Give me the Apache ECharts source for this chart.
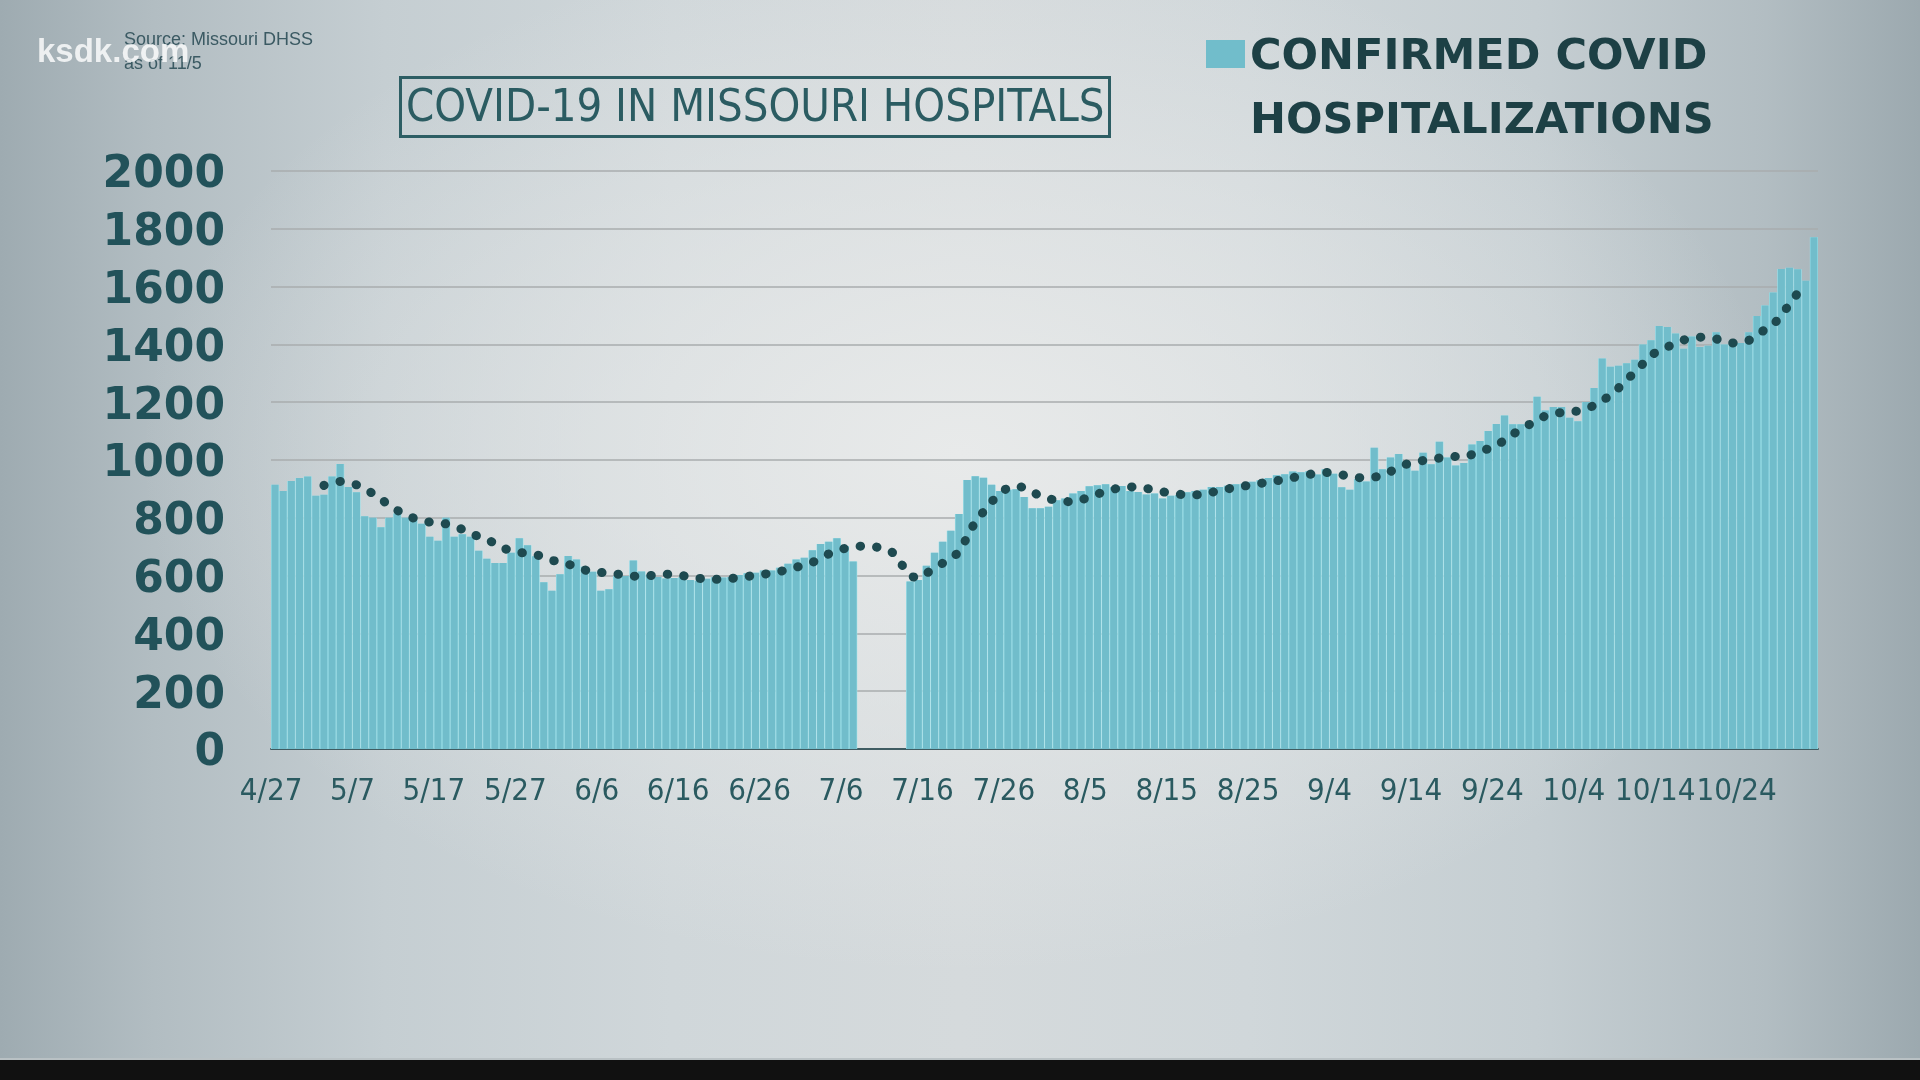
<!DOCTYPE html>
<html>
<head>
<meta charset="utf-8">
<script src="https://cdn.jsdelivr.net/npm/echarts@6/dist/echarts.min.js"></script>
<style>
html,body{margin:0;padding:0;width:1920px;height:1080px;overflow:hidden;}
body{
  background:
    radial-gradient(ellipse 820px 520px at 50% 42%, rgba(232,234,234,1) 0%, rgba(232,234,234,0) 100%),
    linear-gradient(to right, #9eabb1 0%, #b2bdc2 8%, #c5ced2 20%, #d0d7da 35%, #d5dadc 50%, #d0d7da 65%, #c5ced2 80%, #b2bdc2 92%, #9ca9af 100%);
}
#chart{width:1920px;height:1080px;}
</style>
</head>
<body>
<div id="chart"></div>
<script>
// ---- data ----
const startMonth = 4, startDay = 27, dayCount = 190;
const monthLengths = {4: 30, 5: 31, 6: 30, 7: 31, 8: 31, 9: 30, 10: 31, 11: 30};
const dates = [];
(function () {
  let m = startMonth, d = startDay;
  for (let i = 0; i < dayCount; i++) {
    dates.push(m + '/' + d);
    d++;
    if (d > monthLengths[m]) { d = 1; m++; }
  }
})();

const hospitalized = [
  914, 893, 927, 938, 943, 876, 880, 943, 986, 907,
  888, 805, 800, 767, 800, 815, 800, 792, 779, 734,
  721, 800, 734, 743, 734, 686, 658, 644, 644, 679,
  729, 705, 667,
  577, 548, 605, 668, 656, 631, 613, 548, 553, 599,
  599, 652, 614, 602, 595, 590, 592, 594, 585, 582,
  589, 594, 593, 595, 602, 608, 610, 618, 618, 627,
  641, 656,
  662, 688, 709, 717, 729, 702, 649,
  null, null, null, null, null, null,
  580, 585, 634, 679, 717, 755, 813, 931, 944, 939,
  914, 893, 897, 899, 872, 833, 833, 838, 861, 867,
  884, 893, 909, 913, 916, 907, 910, 893, 889, 881,
  884, 867, 876, 879, 888, 893, 897, 907, 907, 911,
  916, 918, 925, 930, 938, 947, 951, 960, 958, 961,
  950, 968,
  952, 906, 897, 934, 926, 1042, 968, 1009, 1021, 992,
  963, 1025, 985, 1063, 1009, 981, 990, 1054, 1066, 1100,
  1125, 1154, 1124, 1124, 1132, 1219, 1171, 1183, 1183, 1146,
  1134, 1201, 1249,
  1351, 1323, 1326, 1335, 1347, 1400, 1414, 1464, 1460, 1438,
  1385, 1427, 1391, 1395, 1442, 1400, 1400, 1405, 1442, 1498,
  1535, 1580, 1661, 1665, 1660, 1620, 1771
];

const sevenDayAvg = [
  null, null, null, null, null, null,
  912, 920, 926, 922, 914, 900, 884, 866, 842, 826,
  810, 799, 791, 785, 781, 779, 770, 760, 747, 735,
  724, 712, 696, 686, 680, 677, 672, 665, 654, 645,
  639, 632, 620, 613, 611, 608, 605, 602, 598, 598,
  600, 603, 605, 604, 600, 596, 591, 588, 587, 588,
  590, 593, 597, 601, 605, 608, 614, 622, 629, 637,
  646, 660, 675, 686, 694, 699, 702, 701, 698, 692,
  676, 637, 601, 592, 608, 625, 643, 662, 682, 734,
  785, 821, 855, 884, 903, 909, 904, 890, 875, 866,
  861, 857, 855, 862, 872, 882, 892, 899, 905, 907,
  907, 902, 895, 890, 886, 882, 878, 879, 882, 888,
  894, 900, 905, 910, 914, 919, 923, 928, 933, 939,
  945, 950, 955, 957, 954, 949, 942, 939, 939, 941,
  946, 960, 975, 986, 993, 998, 1001, 1007, 1013, 1012,
  1010, 1019, 1030, 1039, 1050, 1069, 1089, 1105, 1122, 1140,
  1152, 1161, 1164, 1165, 1170, 1177, 1189, 1205, 1225, 1249,
  1277, 1304, 1333, 1362, 1378, 1391, 1404, 1415, 1421, 1425,
  1424, 1419, 1410, 1405, 1408, 1414, 1430, 1452, 1470, 1500,
  1540, 1577, 1613,
  null
];

const seriesName = 'CONFIRMED COVID HOSPITALIZATIONS';
const legendLines = ['CONFIRMED COVID', 'HOSPITALIZATIONS'];
const titleText = 'COVID-19 IN MISSOURI HOSPITALS';
const sourceText = 'Source: Missouri DHSS\nas of 11/5';

// ---- chart ----
const chart = echarts.init(document.getElementById('chart'), null, {renderer: 'canvas'});
const legendFont = {fontFamily: 'DejaVu Sans', fontWeight: 'bold', fontSize: 43, color: '#1d4045'};
const option = {
  backgroundColor: 'transparent',
  animation: false,
  title: {
    text: titleText,
    left: 400, top: 77,
    padding: [7, 5, 3, 6],
    borderColor: '#2d5e64', borderWidth: 3,
    textStyle: {fontFamily: "'DejaVu Sans Condensed', 'Liberation Sans', sans-serif", fontWeight: 'normal', fontSize: 45, color: '#2b5c62', lineHeight: 50}
  },
  legend: {
    data: [seriesName],
    left: 1206, top: -46, padding: 0,
    icon: 'rect', itemWidth: 39, itemHeight: 28,
    selectedMode: false,
    formatter: function () { return '\n{t|' + legendLines.join('}\n{t|') + '}'; },
    textStyle: Object.assign({lineHeight: 72, rich: {t: Object.assign({lineHeight: 64}, legendFont)}}, legendFont)
  },
  grid: {left: 271, right: 102, top: 171, bottom: 331, containLabel: false},
  xAxis: [
    {
      type: 'category', data: dates, boundaryGap: true,
      axisLine: {lineStyle: {color: '#3f5c62', width: 2}},
      axisTick: {interval: 9, length: 10, lineStyle: {color: '#3f5c62', width: 2}},
      axisLabel: {interval: 9, margin: 27, color: '#2a5a60', fontFamily: "'DejaVu Sans Condensed', 'Liberation Sans', sans-serif", fontSize: 31, padding: [0, 8, 0, 0]},
      splitLine: {show: false}
    },
    {type: 'category', data: dates, boundaryGap: true, show: false}
  ],
  yAxis: {
    type: 'value', min: 0, max: 2000, interval: 200,
    axisLine: {show: false}, axisTick: {show: false},
    splitLine: {lineStyle: {color: '#a9adae', width: 1.5}},
    axisLabel: {margin: 46, color: '#22525a', fontFamily: 'DejaVu Sans', fontWeight: 'bold', fontSize: 44,
                verticalAlign: 'top', lineHeight: 10,
                formatter: function (v) { return String(v); }}
  },
  series: [
    {
      name: 'bar gaps', type: 'bar', xAxisIndex: 1, data: hospitalized,
      barCategoryGap: '0%', itemStyle: {color: '#a0e3ec'}, silent: true, z: 1
    },
    {
      name: seriesName, type: 'bar', xAxisIndex: 0, data: hospitalized,
      barCategoryGap: '13%', itemStyle: {color: '#71bdcb'}, z: 2
    },
    {
      name: '7-day average', type: 'line', xAxisIndex: 0, data: sevenDayAvg,
      smooth: 0.3, showSymbol: false,
      lineStyle: {color: '#1e4a50', width: 9, type: [0.5, 16], cap: 'round'}, z: 3
    }
  ],
  graphic: [
    {type: 'text', left: 124, top: 28, z: 10,
     style: {text: sourceText, fontFamily: 'Liberation Sans', fontSize: 18, lineHeight: 24, fill: '#3b5a63'}},
    {type: 'text', left: 37, top: 36, z: 20,
     style: {text: 'ksdk.com', fontFamily: 'Liberation Sans', fontWeight: 'bold', fontSize: 33, fill: 'rgba(255,255,255,0.8)'}},
    {type: 'rect', z: 5, shape: {x: 0, y: 1058, width: 1920, height: 2}, style: {fill: '#b9c1c4'}},
    {type: 'rect', z: 5, shape: {x: 0, y: 1060, width: 1920, height: 20}, style: {fill: '#111111'}}
  ]
};
chart.setOption(option);
</script>
</body>
</html>
